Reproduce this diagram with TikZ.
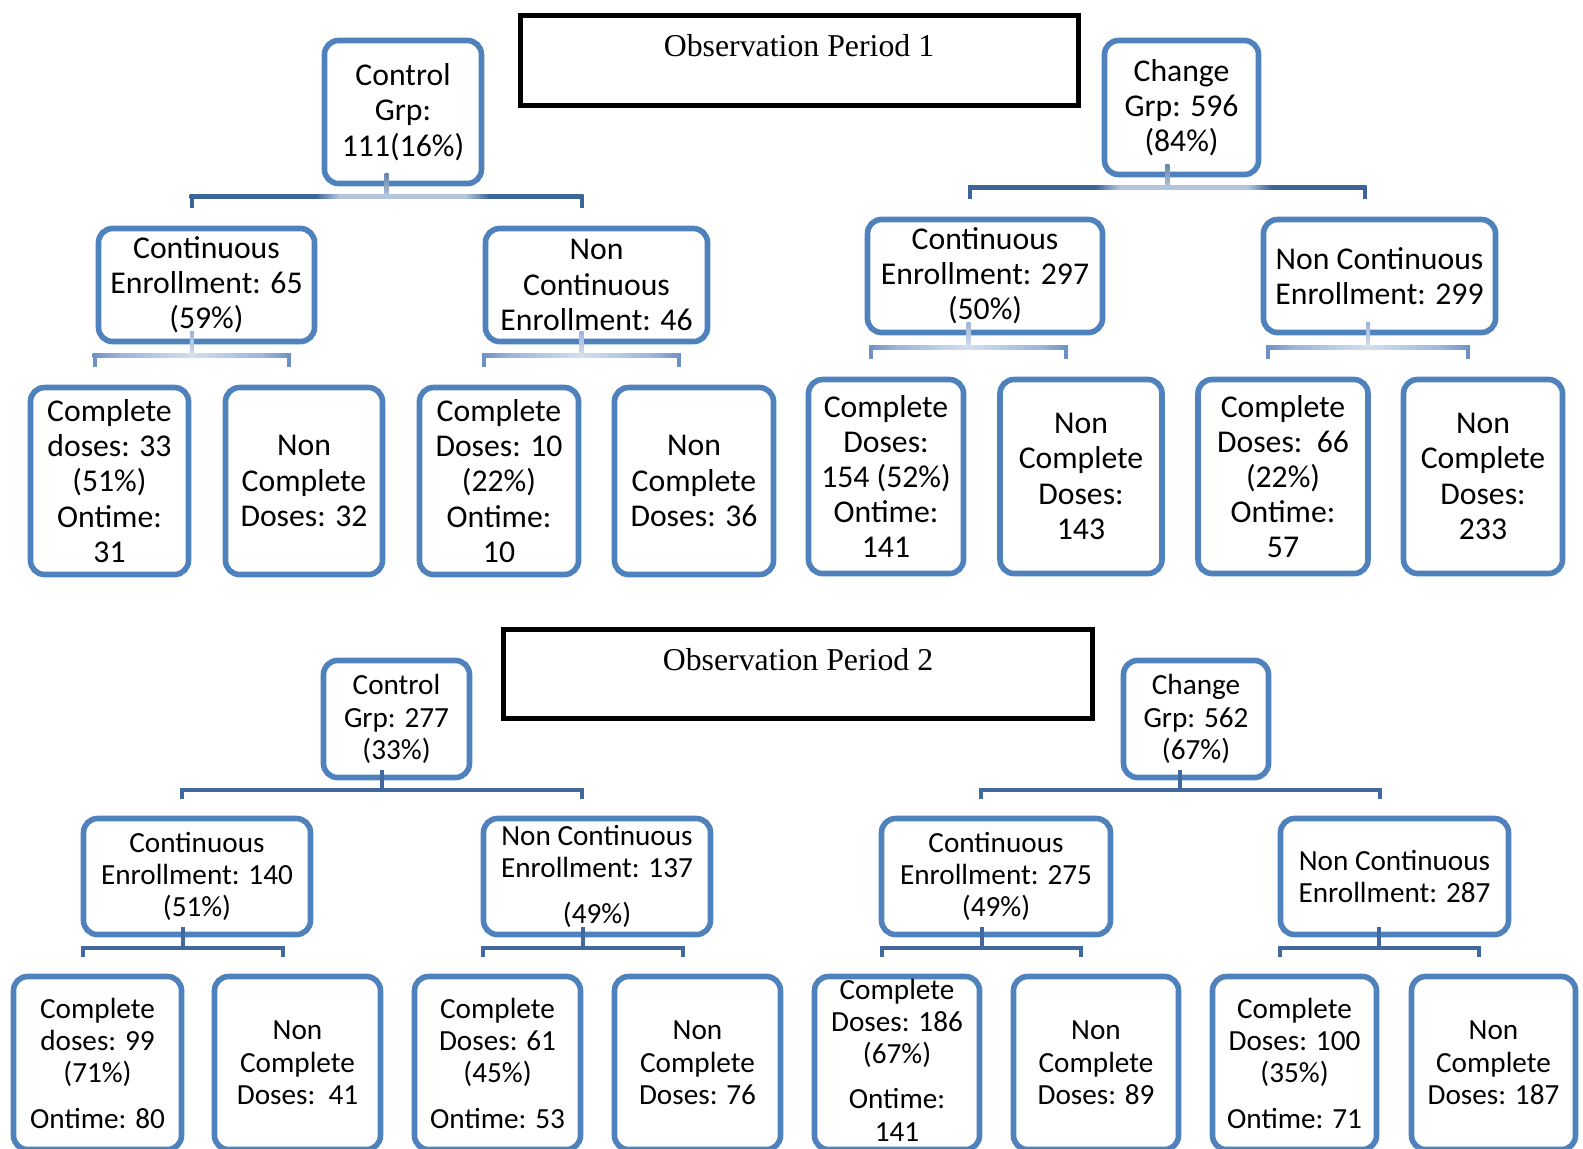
\documentclass[tikz,border=0pt]{standalone}
\usepackage{fontspec}
\setmainfont{Carlito}
\newfontfamily\titlefont{Liberation Serif}
\usetikzlibrary{calc}
\definecolor{boxblue}{HTML}{4F81BD}
\definecolor{bard}{HTML}{3C6698}
\definecolor{barl}{HTML}{B4C6DC}
\definecolor{subd}{HTML}{6D91C2}
\definecolor{subm}{HTML}{9DB5D9}
\definecolor{subl}{HTML}{D3DFEE}
\definecolor{bartwo}{HTML}{41699D}
\pgfdeclarehorizontalshading{fadeA}{100bp}{color(0bp)=(bard); color(41bp)=(bard); color(44bp)=(barl); color(60bp)=(barl); color(63bp)=(bard); color(100bp)=(bard)}
\pgfdeclarehorizontalshading{fadeB}{100bp}{color(0bp)=(subd); color(25bp)=(subd); color(32bp)=(subm); color(50bp)=(subl); color(68bp)=(subm); color(75bp)=(subd); color(100bp)=(subd)}
\tikzset{
  box/.style={draw=boxblue, line width=2.8pt, rounded corners=7pt, fill=white,
    align=center, inner sep=0pt, text=black},
  wh/.style 2 args={minimum width=#1*0.5pt, minimum height=#2*0.5pt},
  fa/.style={font=\fontsize{15.85}{17.6}\selectfont},
  fb/.style={font=\fontsize{14.6}{16.15}\selectfont},
  titlebox/.style={draw=black, line width=2.5pt, inner sep=0pt},
  titletext/.style={font=\titlefont\fontsize{15.9}{18}\selectfont, anchor=base, inner sep=0pt},
  p1top trunk/.style={top color=bard!80!white, bottom color=barl},
  p1top drop/.style={draw=bard, line width=2pt},
  p1top bar/.style={shading=fadeA},
  p1sub trunk/.style={top color=subm, bottom color=subl},
  p1sub drop/.style={draw=subd, line width=2pt},
  p1sub bar/.style={shading=fadeB},
  p2 trunk/.style={fill=bartwo},
  p2 drop/.style={draw=bartwo, line width=2pt},
  p2 bar/.style={fill=bartwo}
}
\newcommand\treelink[7]{%
  \coordinate (#1-l) at ($(#2.north)+(-15,-#4)$);
  \coordinate (#1-r) at ($(#3.north)+(-15,-#4)$);
  \coordinate (#1-m) at ($(#1-l)!0.5!(#1-r)$);
  \coordinate (#1-t) at ($(#1.south)+(0,-#5)$);
  \coordinate (#1-mt) at (#1-m |- #1-t);
  \coordinate (#1-a) at ($(#2.north)+(-15,-#6)$);
  \coordinate (#1-b) at ($(#3.north)+(-15,-#6)$);
  \path[#7 trunk] ($(#1-mt)+(-2,0)$) rectangle ($(#1-m)+(2,0)$);
  \draw[#7 drop] (#1-l) -- (#1-a);
  \draw[#7 drop] (#1-r) -- (#1-b);
  \path[#7 bar] ($(#1-l)+(-2,-2)$) rectangle ($(#1-r)+(2,2)$);
}
\begin{document}
\begin{tikzpicture}[x=0.5pt,y=-0.5pt]
\path[use as bounding box, fill=white] (0,0) rectangle (1583,1148);

% ---------------- Observation Period 1 ----------------
\node[titlebox, wh={558}{90}] (titleA) at (799.5,60.5) {};
\node[titletext] (titleAtext) at (799,56) {Observation Period 1};

\begin{scope}[every node/.append style={fa}]
\node[box, wh={157}{143}] (cA) at (403,112) {Control\\Grp:\\111(16\%)};
\node[box, wh={154}{134}] (gA) at (1181.5,107.5) {Change\\Grp: 596\\(84\%)};
\node[box, wh={216}{113}] (cA1) at (206.5,285) {Continuous\\Enrollment: 65\\(59\%)};
\node[box, wh={222}{113}] (cA2) at (596.5,285) {Non\\Continuous\\Enrollment: 46};
\node[box, wh={235}{113}] (gA1) at (985,276) {Continuous\\Enrollment: 297\\(50\%)};
\node[box, wh={232}{113}] (gA2) at (1379.5,276) {Non Continuous\\Enrollment: 299};
\node[box, wh={158}{187}] (cA11) at (109.5,481) {Complete\\doses: 33\\(51\%)\\Ontime:\\31};
\node[box, wh={157}{187}] (cA12) at (304,481) {Non\\Complete\\Doses: 32};
\node[box, wh={159}{187}] (cA21) at (499,481) {Complete\\Doses: 10\\(22\%)\\Ontime:\\10};
\node[box, wh={159}{187}] (cA22) at (694,481) {Non\\Complete\\Doses: 36};
\node[box, wh={155}{194}] (gA11) at (886,476.5) {Complete\\Doses:\\154 (52\%)\\Ontime:\\141};
\node[box, wh={162}{194}] (gA12) at (1081,476.5) {Non\\Complete\\Doses:\\143};
\node[box, wh={170}{194}] (gA21) at (1283,476.5) {Complete\\Doses:~~66\\(22\%)\\Ontime:\\57};
\node[box, wh={159}{194}] (gA22) at (1483,476.5) {Non\\Complete\\Doses:\\233};
\end{scope}

\treelink{cA}{cA1}{cA2}{29}{13}{18}{p1top}
\treelink{gA}{gA1}{gA2}{29}{13}{18}{p1top}
\treelink{cA1}{cA11}{cA12}{29}{13}{18}{p1sub}
\treelink{cA2}{cA21}{cA22}{29}{13}{18}{p1sub}
\treelink{gA1}{gA11}{gA12}{29}{13}{18}{p1sub}
\treelink{gA2}{gA21}{gA22}{29}{13}{18}{p1sub}

% ---------------- Observation Period 2 ----------------
\node[titlebox, wh={589}{89}] (titleB) at (798,674) {};
\node[titletext] (titleBtext) at (798,670) {Observation Period 2};

\begin{scope}[every node/.append style={fb}]
\node[box, wh={146}{117}] (cB) at (396.5,719) {Control\\Grp: 277\\(33\%)};
\node[box, wh={145}{117}] (gB) at (1196,719) {Change\\Grp: 562\\(67\%)};
\node[box, wh={227}{116}] (cB1) at (197,876.5) {Continuous\\Enrollment: 140\\(51\%)};
\node[box, wh={227}{116}] (cB2) at (597,876.5) {Non Continuous\\Enrollment: 137\\[7pt](49\%)};
\node[box, wh={229}{116}] (gB1) at (996,876.5) {Continuous\\Enrollment: 275\\(49\%)};
\node[box, wh={228}{116}] (gB2) at (1394.5,876.5) {Non Continuous\\Enrollment: 287};
\node[box, wh={168}{173}] (cB11) at (97.5,1063) {Complete\\doses: 99\\(71\%)\\[6.5pt]Ontime: 80};
\node[box, wh={166}{173}] (cB12) at (297.5,1063) {Non\\Complete\\Doses:~~41};
\node[box, wh={166}{173}] (cB21) at (497.5,1063) {Complete\\Doses: 61\\(45\%)\\[6.5pt]Ontime: 53};
\node[box, wh={166}{173}] (cB22) at (697.5,1063) {Non\\Complete\\Doses: 76};
\node[box, wh={165}{173}] (gB11) at (897,1063) {};
\node[fb, align=center, inner sep=0pt] (gB11text) at (897,1060) {Complete\\Doses: 186\\(67\%)\\[6.5pt]Ontime:\\141};
\node[box, wh={165}{173}] (gB12) at (1096,1063) {Non\\Complete\\Doses: 89};
\node[box, wh={164}{173}] (gB21) at (1294.5,1063) {Complete\\Doses: 100\\(35\%)\\[6.5pt]Ontime: 71};
\node[box, wh={164}{173}] (gB22) at (1493.5,1063) {Non\\Complete\\Doses: 187};
\end{scope}

\treelink{cB}{cB1}{cB2}{26}{10}{17}{p2}
\treelink{gB}{gB1}{gB2}{26}{10}{17}{p2}
\treelink{cB1}{cB11}{cB12}{26}{10}{17}{p2}
\treelink{cB2}{cB21}{cB22}{26}{10}{17}{p2}
\treelink{gB1}{gB11}{gB12}{26}{10}{17}{p2}
\treelink{gB2}{gB21}{gB22}{26}{10}{17}{p2}
\end{tikzpicture}
\end{document}
